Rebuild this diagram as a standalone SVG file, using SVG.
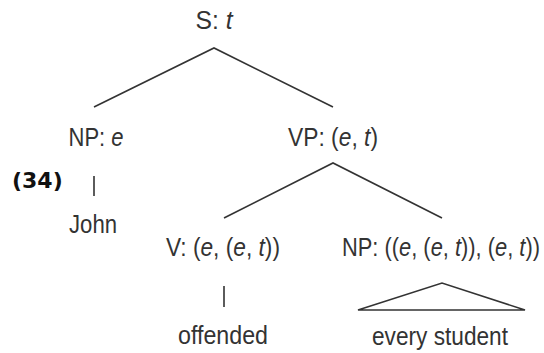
<svg xmlns="http://www.w3.org/2000/svg" width="544" height="353" viewBox="0 0 544 353">
<style>
.t{font-family:"Liberation Sans",Arial,sans-serif;font-size:25px;fill:#333;text-anchor:middle}
.i{font-style:italic}
.b{font-family:"DejaVu Sans",sans-serif;font-weight:bold;font-size:22px;fill:#111}
.l{stroke:#333;stroke-width:1.6;fill:none;stroke-linejoin:miter}
</style>
<rect width="544" height="353" fill="#fff"/>
<g id="S"><text class="t" x="214" y="29" textLength="37" lengthAdjust="spacingAndGlyphs">S: <tspan class="i">t</tspan></text></g>
<g id="NP1"><text class="t" x="96" y="146" textLength="55" lengthAdjust="spacingAndGlyphs">NP: <tspan class="i">e</tspan></text></g>
<g id="VP"><text class="t" x="333" y="146" textLength="90" lengthAdjust="spacingAndGlyphs">VP: (<tspan class="i">e</tspan>, <tspan class="i">t</tspan>)</text></g>
<g id="John"><text class="t" x="93" y="233" textLength="48" lengthAdjust="spacingAndGlyphs">John</text></g>
<g id="V"><text class="t" x="223" y="256" textLength="114" lengthAdjust="spacingAndGlyphs">V: (<tspan class="i">e</tspan>, (<tspan class="i">e</tspan>, <tspan class="i">t</tspan>))</text></g>
<g id="NP2"><text class="t" x="441" y="256" textLength="198" lengthAdjust="spacingAndGlyphs">NP: ((<tspan class="i">e</tspan>, (<tspan class="i">e</tspan>, <tspan class="i">t</tspan>)), (<tspan class="i">e</tspan>, <tspan class="i">t</tspan>))</text></g>
<g id="offended"><text class="t" x="223" y="344" textLength="90" lengthAdjust="spacingAndGlyphs">offended</text></g>
<g id="every-student"><text class="t" x="440" y="345" textLength="136" lengthAdjust="spacingAndGlyphs">every student</text></g>
<g id="label"><text class="b" x="12" y="188">(34)</text></g>
<g id="connectors">
<polyline class="l" points="94,107 214,48 333,107"/>
<line class="l" x1="94" y1="176" x2="94" y2="196"/>
<polyline class="l" points="224,218 333,163 442,218"/>
<line class="l" x1="224" y1="286" x2="224" y2="307"/>
<polygon class="l" points="358,310 442,283 525,310"/>
</g>
</svg>
